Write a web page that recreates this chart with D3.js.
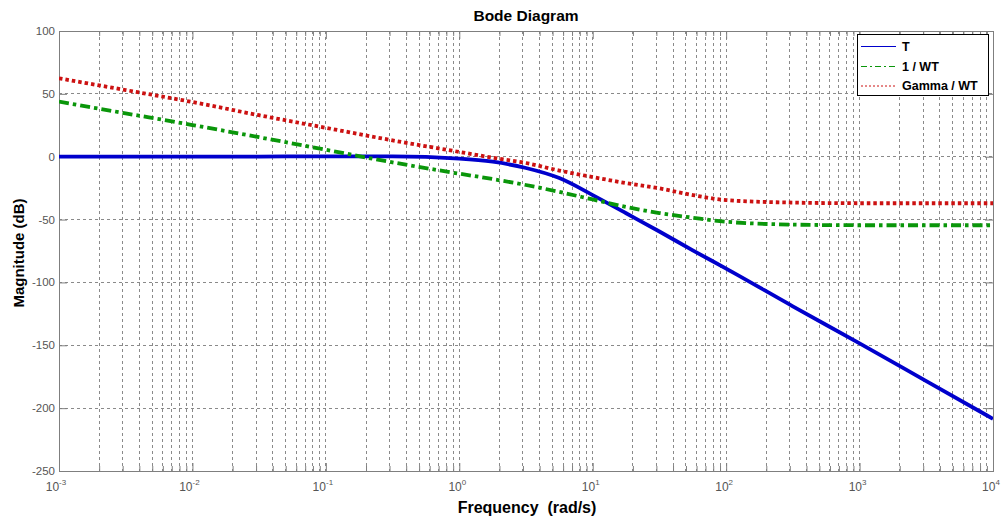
<!DOCTYPE html>
<html>
<head>
<meta charset="utf-8">
<script src="https://cdn.jsdelivr.net/npm/d3@7"></script>
<style>
  html, body { margin: 0; padding: 0; background: #fff; }
  svg { display: block; font-family: "Liberation Sans", Arial, sans-serif; }
</style>
</head>
<body>
<svg id="chart" width="1003" height="519"></svg>
<script>
// ---- data ----
const freqs = [0.001, 0.00316, 0.01, 0.0316, 0.1, 0.316, 1, 1.78, 3.16, 5.62, 10, 17.8, 31.6, 56.2, 100, 316, 1000, 3162, 10000];
const seriesT     = [0, 0, 0, 0.1, 0.3, 0.3, -1.5, -4, -9, -17, -30.5, -45, -59.5, -74.5, -89, -119, -148.5, -178.5, -208.5];
const seriesInvWT = [43.8, 34.5, 25.2, 15.5, 5.5, -4.5, -13.5, -17.8, -22.5, -28, -34, -40, -44.8, -48.5, -51.7, -54, -54.5, -54.5, -54.5];
const seriesGamma = [62.4, 53, 43.5, 33, 23, 13, 3.8, -0.8, -5, -11, -16.2, -21, -25.2, -30.5, -34.5, -36.5, -37, -37, -37];
const seriesNames = ["T", "1 / WT", "Gamma / WT"];
const xTickExps = [-3, -2, -1, 0, 1, 2, 3, 4];
const yTicks = [100, 50, 0, -50, -100, -150, -200, -250];
const titleText = "Bode Diagram";
const xLabelText = "Frequency  (rad/s)";
const yLabelText = "Magnitude (dB)";

// ---- layout ----
const svg = d3.select("#chart");
const L = 59, R = 993, T = 31, B = 471;
const x = d3.scaleLog().domain([1e-3, 1e4]).range([L, R]);
const y = d3.scaleLinear().domain([-250, 100]).range([B, T]);

svg.append("rect").attr("width", 1003).attr("height", 519).attr("fill", "#fff");

const xAll = [];
for (let e = -3; e < 4; e++) for (let m = 1; m <= 9; m++) xAll.push(m * Math.pow(10, e));
xAll.push(1e4);
const xMajor = xTickExps.map(e => Math.pow(10, e));
const isMajor = v => xMajor.some(mv => Math.abs(mv - v) / mv < 1e-9);

const gridColor = "#8a8a8a";
const g = svg.append("g");
g.selectAll("line.vg").data(xAll.filter(v => v > 1e-3 && v < 1e4)).enter().append("line")
  .attr("x1", d => x(d)).attr("x2", d => x(d)).attr("y1", T).attr("y2", B)
  .attr("stroke", gridColor).attr("stroke-width", 1).attr("stroke-dasharray", "3,3")
  .attr("shape-rendering", "crispEdges");
g.selectAll("line.hg").data(yTicks.filter(v => v > -250 && v < 100)).enter().append("line")
  .attr("x1", L).attr("x2", R).attr("y1", d => y(d)).attr("y2", d => y(d))
  .attr("stroke", gridColor).attr("stroke-width", 1).attr("stroke-dasharray", "3,3")
  .attr("shape-rendering", "crispEdges");

const axColor = "#7f7f7f";
const gxB = svg.append("g").attr("transform", `translate(0,${B})`).call(d3.axisBottom(x).tickValues(xAll).tickSize(0).tickFormat(""));
gxB.selectAll(".tick line").attr("y2", d => isMajor(d) ? -8 : -5).attr("stroke", axColor);
const gxT = svg.append("g").attr("transform", `translate(0,${T})`).call(d3.axisTop(x).tickValues(xAll).tickSize(0).tickFormat(""));
gxT.selectAll(".tick line").attr("y2", d => isMajor(d) ? 8 : 5).attr("stroke", axColor);
const gyL = svg.append("g").attr("transform", `translate(${L},0)`).call(d3.axisLeft(y).tickValues(yTicks).tickSize(0).tickFormat(""));
gyL.selectAll(".tick line").attr("x2", 8).attr("stroke", axColor);
const gyR = svg.append("g").attr("transform", `translate(${R},0)`).call(d3.axisRight(y).tickValues(yTicks).tickSize(0).tickFormat(""));
gyR.selectAll(".tick line").attr("x2", -8).attr("stroke", axColor);
[gxB, gxT, gyL, gyR].forEach(a => a.select(".domain").remove());

svg.append("rect").attr("x", L).attr("y", T).attr("width", R - L).attr("height", B - T)
  .attr("fill", "none").attr("stroke", axColor).attr("stroke-width", 1).attr("shape-rendering", "crispEdges");

const labColor = "#555";
svg.append("g").selectAll("text").data(yTicks).enter().append("text")
  .attr("x", L - 4).attr("y", d => y(d)).attr("dy", "0.35em")
  .attr("text-anchor", "end").attr("font-size", 11.5).attr("fill", labColor)
  .text(d => d);
const xl = svg.append("g").selectAll("text").data(xTickExps).enter().append("text")
  .attr("x", d => x(Math.pow(10, d)) - (d < 0 ? 3 : 2)).attr("y", 491)
  .attr("text-anchor", "middle").attr("font-size", 12).attr("fill", labColor);
xl.append("tspan").text("10");
xl.append("tspan").attr("dy", -6).attr("font-size", 8).text(d => d);

svg.append("text").attr("x", (L + R) / 2).attr("y", 21).attr("text-anchor", "middle")
  .attr("font-size", 15.5).attr("font-weight", "bold").attr("fill", "#000").text(titleText);
svg.append("text").attr("x", (L + R) / 2 + 1).attr("y", 513).attr("text-anchor", "middle")
  .attr("font-size", 16).attr("font-weight", "bold").attr("fill", "#000")
  .attr("xml:space", "preserve").style("white-space", "pre").text(xLabelText);
svg.append("text").attr("transform", `translate(24,${(T + B) / 2 + 2}) rotate(-90)`)
  .attr("text-anchor", "middle").attr("font-size", 15).attr("font-weight", "bold").attr("fill", "#000")
  .text(yLabelText);

const styles = [
  { color: "#0000cc", dash: null, w: 3.8 },
  { color: "#0a960a", dash: "10,4,3.5,4", w: 3.8 },
  { color: "#cc1111", dash: "3.5,3", w: 3.8 }
];
const allSeries = [seriesT, seriesInvWT, seriesGamma];
const line = d3.line().x(d => x(d[0])).y(d => y(d[1])).curve(d3.curveMonotoneX);
const plot = svg.append("g");
plot.append("clipPath").attr("id", "clip").append("rect")
  .attr("x", L).attr("y", T).attr("width", R - L).attr("height", B - T);
allSeries.forEach((s, i) => {
  plot.append("path").datum(freqs.map((f, k) => [f, s[k]]))
    .attr("d", line).attr("fill", "none")
    .attr("stroke", styles[i].color).attr("stroke-width", styles[i].w)
    .attr("stroke-dasharray", styles[i].dash)
    .attr("clip-path", "url(#clip)");
});

const lg = svg.append("g");
lg.append("rect").attr("x", 857.5).attr("y", 34.5).attr("width", 131).attr("height", 61)
  .attr("fill", "#fff").attr("stroke", "#000").attr("stroke-width", 1);
const rowsY = [46.5, 66.5, 86];
seriesNames.forEach((n, i) => {
  lg.append("line").attr("x1", 861).attr("x2", 896).attr("y1", rowsY[i]).attr("y2", rowsY[i])
    .attr("stroke", styles[i].color).attr("stroke-width", 1)
    .attr("stroke-dasharray", i === 0 ? null : (i === 1 ? "6,3,2,3" : "2,2"));
  lg.append("text").attr("x", 902).attr("y", rowsY[i]).attr("dy", "0.35em")
    .attr("font-size", 12.5).attr("font-weight", "bold").attr("fill", "#000").text(n);
});
</script>
</body>
</html>
